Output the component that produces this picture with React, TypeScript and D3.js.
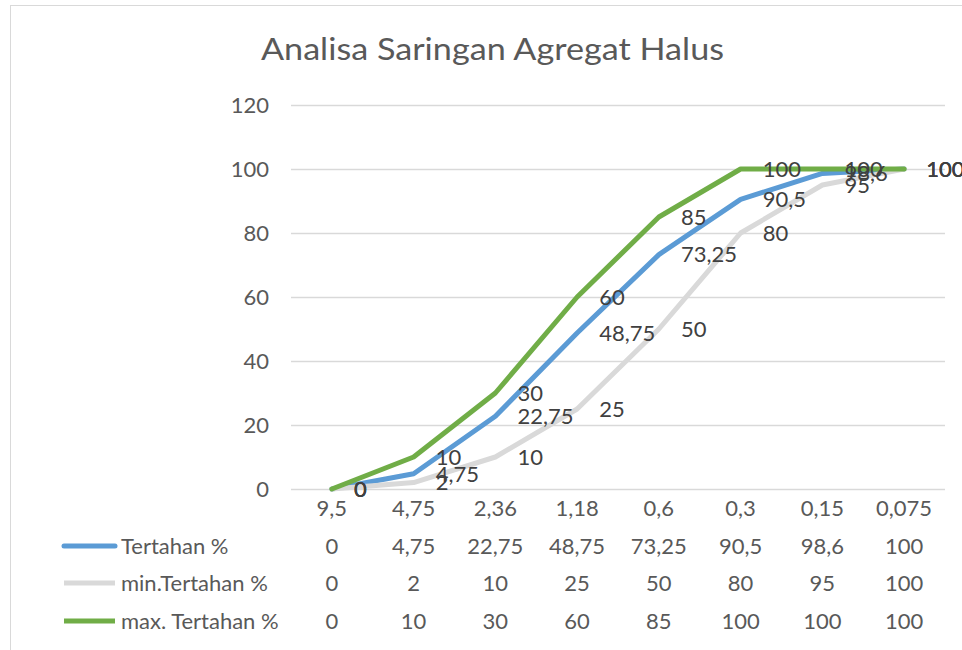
import { useEffect, useRef } from 'react';
import * as d3 from 'd3';

// Sieve sizes (mm) as shown on the category axis
const categories = ['9,5', '4,75', '2,36', '1,18', '0,6', '0,3', '0,15', '0,075'];

const tertahan = [0, 4.75, 22.75, 48.75, 73.25, 90.5, 98.6, 100];
const minTertahan = [0, 2, 10, 25, 50, 80, 95, 100];
const maxTertahan = [0, 10, 30, 60, 85, 100, 100, 100];

const yTicks = [0, 20, 40, 60, 80, 100, 120];

const seriesNames = ['Tertahan %', 'min.Tertahan %', 'max. Tertahan %'];
const seriesColors = ['#5b9bd5', '#d9d9d9', '#70ad47'];

const FONT = 'Lato, "Open Sans", sans-serif';
const fmt = (v: number) => String(v).replace('.', ',');

export default function App() {
  const svgRef = useRef<SVGSVGElement>(null);

  useEffect(() => {
    if (!svgRef.current) return;
    const svg = d3.select(svgRef.current);
    svg.selectAll('*').remove();

    const width = 962;
    const height = 650;
    const plot = { left: 291, right: 945, top: 105, bottom: 489 };

    const series = [tertahan, minTertahan, maxTertahan];

    const x = d3.scaleBand<string>()
      .domain(categories)
      .range([plot.left, plot.right]);
    const cx = (i: number) => (x(categories[i]) ?? 0) + x.bandwidth() / 2;

    const y = d3.scaleLinear()
      .domain([0, 120])
      .range([plot.bottom, plot.top]);

    svg.attr('width', width).attr('height', height);

    // chart frame
    svg.append('rect')
      .attr('x', 10.5)
      .attr('y', 5.5)
      .attr('width', 1000)
      .attr('height', 700)
      .attr('fill', '#fff')
      .attr('stroke', '#d9d9d9')
      .attr('stroke-width', 1);

    // title
    svg.append('text')
      .attr('x', 492.5)
      .attr('y', 60)
      .attr('text-anchor', 'middle')
      .attr('textLength', 463)
      .attr('lengthAdjust', 'spacingAndGlyphs')
      .style('font-family', FONT)
      .style('font-size', '30px')
      .style('font-weight', 400)
      .style('fill', '#595959')
      .text('Analisa Saringan Agregat Halus');

    // gridlines
    svg.append('g')
      .selectAll('line')
      .data(yTicks)
      .join('line')
      .attr('x1', plot.left)
      .attr('x2', plot.right)
      .attr('y1', d => Math.round(y(d)) + 0.5)
      .attr('y2', d => Math.round(y(d)) + 0.5)
      .attr('stroke', '#d9d9d9')
      .attr('stroke-width', 1.5);

    // y axis labels
    const yAxis = d3.axisLeft(y).tickValues(yTicks).tickSize(0).tickPadding(22);
    const ya = svg.append('g')
      .attr('transform', `translate(${plot.left},0)`)
      .call(yAxis);
    ya.select('.domain').remove();
    ya.selectAll('text')
      .attr('dy', '0.35em')
      .style('font-family', FONT)
      .style('font-size', '22px')
      .style('fill', '#595959');

    // lines
    const line = d3.line<number>()
      .x((_, i) => cx(i))
      .y(d => y(d));

    series.forEach((vals, s) => {
      svg.append('path')
        .datum(vals)
        .attr('fill', 'none')
        .attr('stroke', seriesColors[s])
        .attr('stroke-width', 5)
        .attr('stroke-linejoin', 'round')
        .attr('stroke-linecap', 'round')
        .attr('d', line);
    });

    // data labels (to the right of each point)
    series.forEach(vals => {
      svg.append('g')
        .selectAll('text')
        .data(vals)
        .join('text')
        .attr('x', (_, i) => cx(i) + 22)
        .attr('y', d => y(d))
        .attr('dy', '0.35em')
        .style('font-family', FONT)
        .style('font-size', '22px')
        .style('fill', '#404040')
        .text(d => fmt(d));
    });

    // data table: category row
    const tableRows = [508, 546, 583, 621];
    svg.append('g')
      .selectAll('text')
      .data(categories)
      .join('text')
      .attr('x', (_, i) => cx(i))
      .attr('y', tableRows[0])
      .attr('dy', '0.35em')
      .attr('text-anchor', 'middle')
      .style('font-family', FONT)
      .style('font-size', '22px')
      .style('fill', '#595959')
      .text(d => d);

    series.forEach((vals, s) => {
      const rowY = tableRows[s + 1];
      const g = svg.append('g');
      g.selectAll('text')
        .data(vals)
        .join('text')
        .attr('x', (_, i) => cx(i))
        .attr('y', rowY)
        .attr('dy', '0.35em')
        .attr('text-anchor', 'middle')
        .style('font-family', FONT)
        .style('font-size', '22px')
        .style('fill', '#595959')
        .text(d => fmt(d));

      // legend key
      g.append('line')
        .attr('x1', 64)
        .attr('x2', 115)
        .attr('y1', rowY)
        .attr('y2', rowY)
        .attr('stroke', seriesColors[s])
        .attr('stroke-width', 5)
        .attr('stroke-linecap', s === 0 ? 'round' : 'butt');

      g.append('text')
        .attr('x', 121)
        .attr('y', rowY)
        .attr('dy', '0.35em')
        .style('font-family', FONT)
        .style('font-size', '22px')
        .style('fill', '#595959')
        .text(seriesNames[s]);
    });
  }, []);

  return (
    <div style={{ position: 'absolute', left: 0, top: 0, width: 962, height: 650, overflow: 'hidden' }}>
      <svg ref={svgRef} style={{ display: 'block' }} />
    </div>
  );
}
